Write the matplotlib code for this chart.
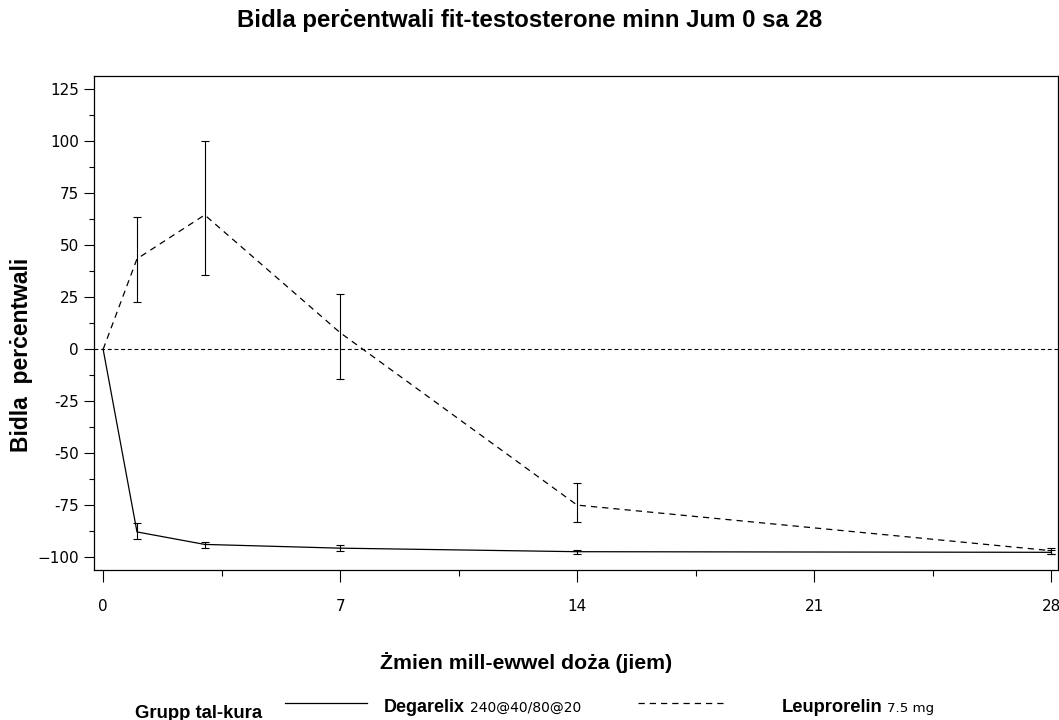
import matplotlib
matplotlib.use("Agg")
import matplotlib.pyplot as plt
from matplotlib.lines import Line2D
from matplotlib.ticker import MultipleLocator, FixedLocator

# ---- data ----
days = [0, 1, 3, 7, 14, 28]
degarelix_mean = [0, -87.8, -93.8, -95.6, -97.3, -97.6]
degarelix_lo = [0, -91.0, -95.3, -97.0, -98.3, -98.6]
degarelix_hi = [0, -83.4, -92.4, -94.3, -96.3, -96.4]
leupro_mean = [0, 43.5, 64.6, 8.0, -74.9, -96.8]
leupro_lo = [0, 22.9, 35.7, -14.1, -83.0, -98.2]
leupro_hi = [0, 63.8, 100.1, 26.8, -64.4, -95.4]

xticks = [0, 7, 14, 21, 28]
xticklabels = ["0", "7", "14", "21", "28"]
yticks = [125, 100, 75, 50, 25, 0, -25, -50, -75, -100]
yticklabels = ["125", "100", "75", "50", "25", "0", "-25", "-50", "-75", "\u2212100"]

title = "Bidla perċentwali fit-testosterone minn Jum 0 sa 28"
xlabel = "Żmien mill-ewwel doża (jiem)"
ylabel = "Bidla  perċentwali"
legend_title = "Grupp tal-kura"
series_names = ["Degarelix", "Leuprorelin"]
series_doses = ["240@40/80@20", "7.5 mg"]

BOLD = ["Liberation Sans", "DejaVu Sans"]

fig = plt.figure(figsize=(10.59, 7.2), dpi=100)
ax = fig.add_axes([94 / 1059, 150 / 720, (1057.5 - 94) / 1059, (570 - 76) / 720])

ax.axhline(0, color="black", lw=0.8, ls=(0, (3.5, 2.5)))

def with_err(mean, lo, hi):
    return [m - l for m, l in zip(mean, lo)], [h - m for m, h in zip(mean, hi)]

ax.plot(days, degarelix_mean, color="black", lw=0.9, ls="-")
ax.plot(days, leupro_mean, color="black", lw=0.9, ls=(0, (5, 4)))
e1 = with_err(degarelix_mean, degarelix_lo, degarelix_hi)
e2 = with_err(leupro_mean, leupro_lo, leupro_hi)
ax.errorbar(days[1:], degarelix_mean[1:], yerr=[e1[0][1:], e1[1][1:]], fmt="none",
            ecolor="black", elinewidth=0.8, capsize=2.8, capthick=0.8)
ax.errorbar(days[1:], leupro_mean[1:], yerr=[e2[0][1:], e2[1][1:]], fmt="none",
            ecolor="black", elinewidth=0.8, capsize=2.8, capthick=0.8)

ax.set_xlim(-0.27, 28.19)
ax.set_ylim(-106.1, 131.4)
ax.xaxis.set_major_locator(FixedLocator(xticks))
ax.set_xticklabels(xticklabels)
ax.xaxis.set_minor_locator(FixedLocator([3.5, 10.5, 17.5, 24.5]))
ax.yaxis.set_major_locator(FixedLocator(yticks))
ax.set_yticklabels(yticklabels)
ax.yaxis.set_minor_locator(MultipleLocator(12.5))

ax.tick_params(axis="x", which="major", direction="out", length=8.6, width=0.8, pad=12, labelsize=11)
ax.tick_params(axis="x", which="minor", direction="out", length=4.3, width=0.8)
ax.tick_params(axis="y", which="major", direction="out", length=7, width=0.8, pad=4, labelsize=11)
ax.tick_params(axis="y", which="minor", direction="out", length=3.6, width=0.8)
for lab in ax.get_xticklabels() + ax.get_yticklabels():
    lab.set_family(["DejaVu Sans"])
for s in ax.spines.values():
    s.set_linewidth(0.9)

fig.text(0.5, 1 - 20 / 720, title, ha="center", va="center", fontsize=17.3,
         fontweight="bold", family=BOLD)
fig.text(0.497, 1 - 663 / 720, xlabel, ha="center", va="center", fontsize=15.3,
         fontweight="bold", family=BOLD)
fig.text(22 / 1059, 1 - 355 / 720, ylabel, ha="center", va="center", rotation=90,
         fontsize=16.5, fontweight="bold", family=BOLD)

# legend
fig.text(135 / 1059, 1 - 718 / 720, legend_title, ha="left", va="baseline", fontsize=13.3,
         fontweight="bold", family=BOLD)
ly = 1 - 703 / 720
base = 1 - 712 / 720
fig.add_artist(Line2D([285 / 1059, 367 / 1059], [ly, ly], color="black", lw=0.9,
                      transform=fig.transFigure))
fig.add_artist(Line2D([638 / 1059, 728 / 1059], [ly, ly], color="black", lw=0.9,
                      ls=(0, (5, 4)), transform=fig.transFigure))
fig.text(384 / 1059, base, series_names[0], ha="left", va="baseline", fontsize=12.9,
         fontweight="bold", family=BOLD)
fig.text(470 / 1059, base, series_doses[0], ha="left", va="baseline", fontsize=10,
         family=["DejaVu Sans"])
fig.text(782 / 1059, base, series_names[1], ha="left", va="baseline", fontsize=13.2,
         fontweight="bold", family=BOLD)
fig.text(887 / 1059, base, series_doses[1], ha="left", va="baseline", fontsize=9.6,
         family=["DejaVu Sans"])

fig.savefig("out.png", dpi=100)
